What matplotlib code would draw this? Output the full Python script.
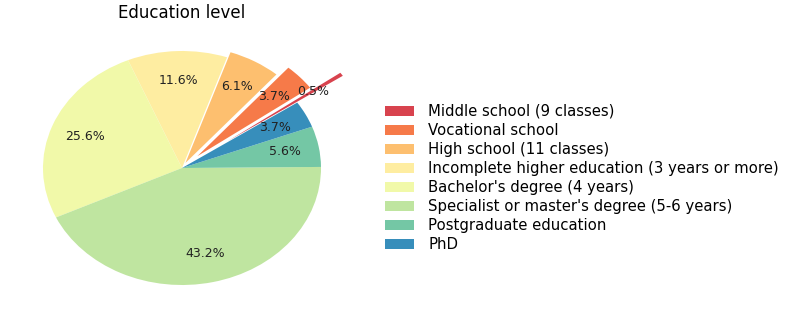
import matplotlib
matplotlib.use("Agg")
import matplotlib.pyplot as plt
import numpy as np

# =========================
# Data
# =========================

levels = [
    "Middle school (9 classes)",
    "Vocational school",
    "High school (11 classes)",
    "Incomplete higher education (3 years or more)",
    "Bachelor's degree (4 years)",
    "Specialist or master's degree (5-6 years)",
    "Postgraduate education",
    "PhD",
]
shares = [0.5, 3.7, 6.1, 11.6, 25.6, 43.2, 5.6, 3.7]
explode = [0.4, 0.15, 0.05, 0, 0, 0, 0, 0]

colors = plt.cm.Spectral(np.linspace(0, 1, len(shares) + 2)[1:-1])

# =========================
# Plot
# =========================

fig = plt.figure(figsize=(7.92, 3.23), dpi=100)
ax = fig.add_axes([0, 0, 370 / 792, 1])

wedges, texts, autotexts = ax.pie(
    shares,
    explode=explode,
    colors=colors,
    autopct="%1.1f%%",
    pctdistance=0.75,
    startangle=34,
    textprops={"fontsize": 9, "color": "#222222"},
)

# stretched pie: 139 px per unit across, 117 px per unit vertically
ax.set_aspect("auto")
ax.set_xlim(-182 / 139, (370 - 182) / 139)
ax.set_ylim(-155 / 117, (323 - 155) / 117)
ax.axis("off")

fig.text(182 / 792, 1 - 13 / 323, "Education level",
         ha="center", va="center", fontsize=12)

fig.legend(
    wedges,
    levels,
    loc="center left",
    bbox_to_anchor=(372 / 792, 1 - 178 / 323),
    frameon=False,
    fontsize=10.7,
    labelspacing=0.27,
    handlelength=1.9,
    handletextpad=1.0,
)

fig.savefig("out.png", dpi=100)
